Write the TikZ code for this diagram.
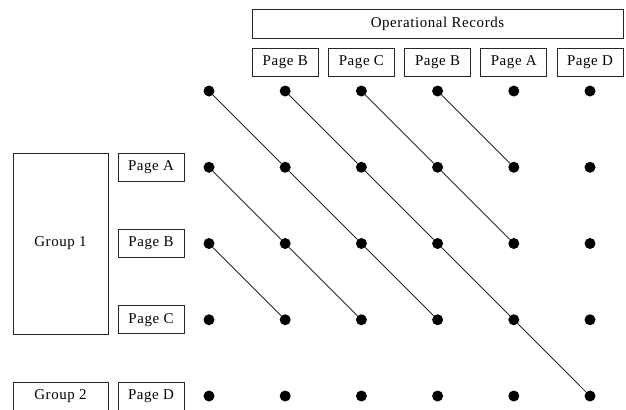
\documentclass[tikz,border=0pt]{standalone}
\usepackage{fontspec}
\setmainfont[LetterSpace=4]{Liberation Serif}
\begin{document}
\begin{tikzpicture}[x=1bp,y=-1bp,
  box/.style={draw=black!85,line width=0.8bp,rectangle,inner sep=0pt,font=\fontsize{15}{17}\selectfont},
  pg/.style={box,minimum width=66bp,minimum height=28bp},
  dot/.style={circle,fill=black,inner sep=0pt,minimum size=11bp},
  link/.style={line width=0.7bp,black}]
\useasboundingbox (0,0) rectangle (626,409);
\clip (0,0) rectangle (626,409);
\node[box,minimum width=371bp,minimum height=29bp] (ops) at (437.5,23.5) {Operational Records};
\foreach \t [count=\i from 1] in {Page B,Page C,Page B,Page A,Page D}{
  \node[pg] (top\i) at ({209+76.2*\i},62) {\t};
}
\node[box,minimum width=95bp,minimum height=181bp] (g1) at (60.5,243.5) {Group 1};
\node[box,minimum width=95bp,minimum height=28bp] (g2) at (60.5,396) {Group 2};
\foreach \t [count=\j from 1] in {Page A,Page B,Page C,Page D}{
  \node[pg] (left\j) at (151,{91+76.25*\j}) {\t};
}
\foreach \i in {0,...,5}{
  \foreach \j in {0,...,4}{
    \node[dot] (d\i\j) at ({209+76.2*\i},{91+76.25*\j}) {};
  }
}
\foreach \a/\b in {d00/d11,d11/d22,d22/d33,
  d10/d21,d21/d32,d32/d43,d43/d54,
  d20/d31,d31/d42,
  d30/d41,
  d01/d12,d12/d23,
  d02/d13}{
  \draw[link] (\a) -- (\b);
}
\end{tikzpicture}
\end{document}
